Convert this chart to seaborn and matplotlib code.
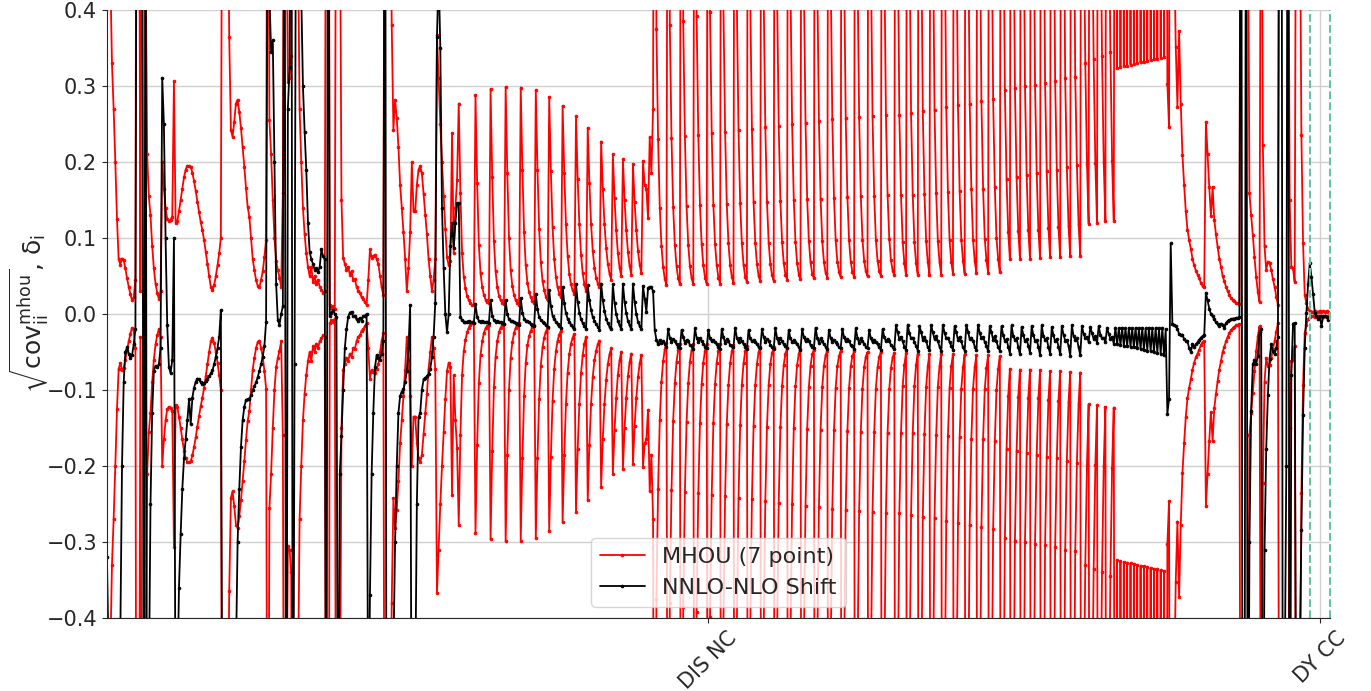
import numpy as np
import pandas as pd
import seaborn as sns
import matplotlib.pyplot as plt

# process groups along the x axis (data point index)
groups = ["DIS NC", "DY CC"]
group_sizes = [718, 12]

# sqrt of the diagonal of the MHOU covariance matrix
mhou_part1 = [
    0.9, 0.6, 0.45, 0.33, 0.27, 0.2, 0.125, 0.072, 0.065, 0.073, 0.071, 0.06, 0.047, 0.036, 0.026, 0.018, 0.022, 0.045,
    1.2, 0.8, 0.03, 0.9, 0.9, 0.5,
    0.21, 0.155, 0.13, 0.09, 0.06, 0.04, 0.028, 0.02, 0.03, 0.2, 0.165, 0.14, 0.125, 0.122, 0.124, 0.128, 0.306,
    0.12, 0.122, 0.135, 0.15, 0.165, 0.18, 0.19, 0.195, 0.195, 0.194, 0.186, 0.175, 0.162, 0.148, 0.134, 0.121,
    0.11, 0.097, 0.082, 0.066, 0.05, 0.036, 0.031, 0.038, 0.05, 0.064, 0.08, 0.1,
    0.8, 1.2, 0.9, 0.6, 0.365, 0.242, 0.233, 0.253, 0.277, 0.282, 0.266, 0.245, 0.22, 0.194, 0.166, 0.141, 0.128,
    0.1, 0.073, 0.058, 0.045, 0.037, 0.035, 0.045, 0.056, 0.075, 0.098, 0.9,
    0.255, 0.21, 0.15, 0.1, 0.07, 0.058, 0.048, 0.036, 0.159, 0.9, 0.6, 0.305, 0.31, 0.34, 1.1, 0.7, 0.9, 0.5,
    0.27, 0.2, 0.14, 0.105, 0.08, 0.062, 0.05, 0.062, 0.042, 0.05, 0.039, 0.045, 0.036, 0.032, 0.028, 0.03,
    0.9, 1.3, 0.012, 0.008, 0.01, 0.006, 0.9, 1.1, 0.6, 0.15, 0.074, 0.066, 0.058, 0.062, 0.052, 0.056, 0.045,
    0.046, 0.036, 0.03, 0.028, 0.022, 0.02, 0.016, 0.012, 0.045, 0.085, 0.074, 0.076, 0.078, 0.072, 0.066, 0.05,
    0.035, 0.025,
    1.0, 1.4, 0.9, 0.6, 0.38, 0.242, 0.282, 0.258, 0.22, 0.17, 0.14, 0.108, 0.073, 0.03, 0.06, 0.108, 0.2, 0.135,
    0.135, 0.17, 0.19, 0.195, 0.185, 0.158, 0.13, 0.105, 0.072, 0.05, 0.03, 0.045, 0.072, 0.367, 0.31, 0.25, 0.2,
    0.155, 0.112, 0.075, 0.064, 0.07, 0.238, 0.08, 0.14, 0.176,
]
mhou_part2 = [
    0.277, 0.159, 0.080, 0.049, 0.034, 0.024, 0.018, 0.014, 0.012, 0.012,
    0.288, 0.172, 0.091, 0.054, 0.036, 0.025, 0.019, 0.016, 0.014,
    0.296, 0.180, 0.096, 0.056, 0.036, 0.024, 0.018, 0.015, 0.013,
    0.299, 0.185, 0.100, 0.058, 0.037, 0.025, 0.018, 0.014, 0.012,
    0.298, 0.190, 0.108, 0.064, 0.041, 0.029, 0.022, 0.017, 0.015,
    0.295, 0.190, 0.112, 0.068, 0.044, 0.031, 0.023, 0.018,
    0.286, 0.188, 0.115, 0.072, 0.049, 0.035, 0.027, 0.022,
    0.274, 0.185, 0.118, 0.077, 0.053, 0.039, 0.031, 0.026,
    0.260, 0.178, 0.118, 0.078, 0.054, 0.039, 0.030,
    0.245, 0.172, 0.118, 0.083, 0.061, 0.048, 0.040, 0.035,
    0.227, 0.165, 0.118, 0.087, 0.066, 0.053, 0.045,
    0.210, 0.153, 0.110, 0.080, 0.061, 0.050,
    0.204, 0.150, 0.110, 0.082, 0.063, 0.052,
    0.197, 0.147, 0.110, 0.083, 0.065, 0.054,
    0.201, 0.170, 0.165, 0.126, 0.233, 0.185, 0.270,
]
mhou_part3 = [
    1.20, 0.375, 0.230, 0.140, 0.090, 0.062, 0.046, 0.038,
    1.10, 0.380, 0.232, 0.141, 0.091, 0.063, 0.047, 0.039,
    1.30, 0.386, 0.234, 0.142, 0.091, 0.063, 0.047, 0.039,
    1.15, 0.392, 0.236, 0.143, 0.092, 0.064, 0.048, 0.040,
    1.25, 0.398, 0.238, 0.144, 0.092, 0.064, 0.048, 0.040,
    1.20, 0.404, 0.240, 0.145, 0.093, 0.065, 0.049, 0.041,
    1.35, 0.410, 0.242, 0.146, 0.093, 0.065, 0.049, 0.042,
    1.20, 0.416, 0.244, 0.147, 0.094, 0.066, 0.050, 0.043,
    1.30, 0.422, 0.246, 0.148, 0.094, 0.066, 0.051, 0.044,
    1.25, 0.428, 0.248, 0.149, 0.095, 0.067, 0.052, 0.045,
    1.40, 0.434, 0.250, 0.150, 0.095, 0.067, 0.052, 0.046,
    1.30, 0.440, 0.252, 0.151, 0.096, 0.068, 0.053, 0.047,
    1.35, 0.446, 0.254, 0.152, 0.096, 0.068, 0.054, 0.048,
    1.25, 0.452, 0.256, 0.153, 0.097, 0.069, 0.055, 0.049,
    1.45, 0.458, 0.258, 0.154, 0.097, 0.069, 0.055, 0.049,
    1.30, 0.464, 0.259, 0.155, 0.098, 0.070, 0.056, 0.050,
    1.40, 0.470, 0.260, 0.155, 0.098, 0.070, 0.056, 0.050,
    1.35, 0.476, 0.262, 0.156, 0.099, 0.071, 0.057, 0.051,
]
mhou_part4 = [
    1.30, 0.52, 0.262, 0.156, 0.095, 0.067, 0.051,
    1.20, 0.52, 0.264, 0.157, 0.095, 0.067, 0.052,
    1.40, 0.53, 0.267, 0.158, 0.096, 0.068, 0.052,
    1.25, 0.53, 0.269, 0.159, 0.096, 0.068, 0.052,
    1.35, 0.54, 0.272, 0.161, 0.097, 0.069, 0.053,
    1.30, 0.54, 0.275, 0.162, 0.098, 0.070, 0.053,
    1.45, 0.55, 0.277, 0.164, 0.098, 0.070, 0.054,
    1.30, 0.55, 0.280, 0.165, 0.099, 0.071, 0.054,
    1.40, 0.56, 0.283, 0.167, 0.100, 0.072, 0.055,
]
mhou_part5 = [
    1.30, 0.60, 0.295, 0.178, 0.108, 0.072,
    1.40, 0.60, 0.298, 0.180, 0.109, 0.073,
    1.25, 0.61, 0.300, 0.183, 0.110, 0.073,
    1.35, 0.61, 0.302, 0.185, 0.111, 0.074,
    1.30, 0.62, 0.304, 0.188, 0.113, 0.075,
    1.45, 0.62, 0.307, 0.190, 0.114, 0.075,
    1.30, 0.63, 0.310, 0.193, 0.116, 0.076,
    1.40, 0.63, 0.312, 0.196, 0.118, 0.077,
]
mhou_part6 = [
    1.30, 0.55, 0.330, 0.198, 0.119,
    1.40, 0.56, 0.335, 0.199, 0.120,
    1.30, 0.56, 0.340, 0.200, 0.122,
    1.45, 0.57, 0.345, 0.202, 0.123,
]
mhou_part7 = [
    1.3, 0.324, 1.4, 0.325, 1.3, 0.326, 1.5, 0.327, 1.3, 0.328, 1.4, 0.329, 1.3, 0.330, 1.5, 0.331,
    1.3, 0.332, 1.4, 0.333, 1.3, 0.334, 1.5, 0.335, 1.3, 0.336, 1.4, 0.337, 1.3, 0.338,
]
mhou_part8 = [
    1.5, 0.303, 0.246, 1.2, 0.8, 0.5, 0.352, 0.273, 0.372, 0.277, 0.209, 0.17, 0.135, 0.111, 0.097, 0.086,
    0.073, 0.064, 0.057, 0.052, 0.047, 0.041, 0.037, 0.036, 0.253, 0.21, 0.167, 0.129, 0.167, 0.124, 0.105,
    0.088, 0.073, 0.062, 0.05, 0.043, 0.036, 0.03, 0.025, 0.021, 0.019, 0.017, 0.015, 0.014, 0.013,
    1.2, 1.5, 1.0, 0.8, 0.6, 0.159, 0.13, 0.104, 0.075, 0.049, 0.029, 0.016, 0.8, 0.222, 0.089, 0.058,
    0.069, 0.067, 0.058, 0.046, 0.036, 0.023, 0.012, 0.9, 1.3, 0.7, 0.9, 1.1, 0.7, 0.15, 0.062, 0.06, 0.042,
    0.8, 1.0, 0.6, 0.236, 0.093, 0.025, 0.014, 0.007,
]
mhou_dy = [0.004, 0.003, 0.003, 0.004, 0.003, 0.003, 0.004, 0.003, 0.004, 0.003, 0.004, 0.003]

# NNLO - NLO shift
shift_part1 = [
    -0.32, -0.45, -0.7, -0.8, -0.75, -0.6, -0.5, -0.45, -0.42, -0.2, -0.09, -0.05, -0.044, -0.052, -0.058, -0.054,
    -0.04, -0.02,
    0.9, 1.1, 0.8, 0.9, -0.9, 0.7,
    -0.8, -0.5, -0.25, -0.13, -0.075, -0.068, -0.07, -0.066, -0.045, 0.31, 0.25, 0.1, -0.015, -0.07, -0.078,
    -0.06, 0.1, -0.6, -0.5, -0.36, -0.29, -0.23, -0.19, -0.165, -0.14, -0.112, -0.145, -0.11, -0.097, -0.089,
    -0.085, -0.086, -0.09, -0.092, -0.091, -0.088, -0.085, -0.082, -0.078, -0.074, -0.066, -0.056, -0.045,
    -0.03, 0.005,
    -0.7, -0.9, -1.1, -0.8, -0.6, -0.5, -0.48, -0.46, -0.45, -0.3, -0.23, -0.175, -0.14, -0.122, -0.113, -0.112,
    -0.112, -0.107, -0.1, -0.095, -0.09, -0.083, -0.075, -0.066, -0.056, -0.042, -0.01, 0.6,
    0.42, 0.345, 0.36, 0.2, 0.04, -0.008, -0.014, 0.0, 0.01, 0.8, -0.9, 0.27, 0.325, 0.9, -0.8, -0.066, 0.7, 1.0,
    0.6, 0.42, 0.3, 0.24, 0.19, 0.12, 0.082, 0.072, 0.066, 0.058, 0.06, 0.055, 0.062, 0.085, 0.076, 0.072,
    -0.8, 0.9, -0.003, 0.002, 0.005, 0.0, -0.004, -0.7, -0.21, -0.16, -0.1, -0.045, -0.02, -0.004, 0.002, 0.003,
    -0.003, -0.002, -0.007, -0.009, -0.005, -0.009, -0.003, -0.002, 0.0, -0.6, -0.37, -0.21, -0.13, -0.07,
    -0.054, -0.058, -0.06, -0.052, -0.035,
    0.9, -0.9, -1.0, -0.8, -0.6, -0.45, -0.3, -0.2, -0.13, -0.108, -0.102, -0.099, -0.09, -0.075, -0.045, 0.012,
    -0.7, -0.9, -0.5, -0.25, -0.136, -0.13, -0.1, -0.086, -0.084, -0.082, -0.079, -0.072, -0.057, -0.03, 0.015,
    0.365, 0.45, 0.35, 0.14, 0.06, 0.0, -0.024, 0.0, 0.09, 0.12, 0.087, 0.12, 0.146,
]
shift_part2 = [
    0.146, -0.004, -0.008, -0.010, -0.011, -0.010, -0.009, -0.010, -0.011, -0.012,
    0.013, -0.004, -0.009, -0.010, -0.009, -0.010, -0.011, -0.011, -0.012,
    0.018, -0.002, -0.008, -0.010, -0.009, -0.010, -0.011, -0.012, -0.013,
    0.018, 0.000, -0.007, -0.009, -0.009, -0.010, -0.012, -0.013, -0.014,
    0.021, 0.002, -0.006, -0.009, -0.009, -0.011, -0.013, -0.015, -0.016,
    0.027, 0.006, -0.004, -0.008, -0.010, -0.012, -0.015, -0.017,
    0.031, 0.010, -0.002, -0.007, -0.010, -0.013, -0.016, -0.018,
    0.036, 0.014, 0.001, -0.006, -0.010, -0.014, -0.017, -0.020,
    0.039, 0.016, 0.002, -0.007, -0.012, -0.016, -0.020,
    0.038, 0.018, 0.005, -0.004, -0.009, -0.013, -0.017, -0.021,
    0.040, 0.018, 0.004, -0.006, -0.012, -0.017, -0.020,
    0.039, 0.015, 0.000, -0.009, -0.015, -0.020,
    0.040, 0.016, 0.001, -0.009, -0.015, -0.020,
    0.040, 0.016, 0.000, -0.010, -0.016, -0.020,
    0.037, 0.020, 0.003, 0.034, 0.036, 0.035, 0.030,
]
shift_part3 = [
    -0.021, -0.034, -0.040, -0.034, -0.038, -0.036, -0.040, -0.043,
    -0.020, -0.031, -0.037, -0.033, -0.036, -0.040, -0.043, -0.045,
    -0.021, -0.030, -0.038, -0.034, -0.035, -0.041, -0.042, -0.046,
    -0.019, -0.031, -0.037, -0.032, -0.036, -0.039, -0.043, -0.045,
    -0.021, -0.032, -0.036, -0.034, -0.037, -0.040, -0.044, -0.046,
    -0.020, -0.030, -0.038, -0.033, -0.035, -0.041, -0.042, -0.044,
    -0.018, -0.031, -0.037, -0.032, -0.036, -0.040, -0.043, -0.046,
    -0.021, -0.032, -0.036, -0.034, -0.037, -0.039, -0.044, -0.045,
    -0.020, -0.030, -0.037, -0.033, -0.035, -0.041, -0.043, -0.046,
    -0.019, -0.031, -0.038, -0.032, -0.036, -0.040, -0.042, -0.045,
    -0.021, -0.032, -0.037, -0.034, -0.037, -0.039, -0.044, -0.047,
    -0.020, -0.030, -0.036, -0.033, -0.035, -0.041, -0.043, -0.045,
    -0.018, -0.031, -0.038, -0.032, -0.036, -0.040, -0.043, -0.046,
    -0.021, -0.032, -0.037, -0.034, -0.037, -0.040, -0.044, -0.045,
    -0.020, -0.030, -0.036, -0.033, -0.035, -0.041, -0.042, -0.046,
    -0.019, -0.031, -0.038, -0.032, -0.036, -0.039, -0.043, -0.045,
    -0.021, -0.032, -0.037, -0.034, -0.037, -0.040, -0.044, -0.047,
    -0.020, -0.030, -0.036, -0.033, -0.035, -0.041, -0.043, -0.046,
]
shift_part4 = [
    -0.015, -0.024, -0.033, -0.030, -0.036, -0.043, -0.047,
    -0.014, -0.025, -0.032, -0.031, -0.037, -0.042, -0.048,
    -0.016, -0.023, -0.034, -0.030, -0.035, -0.044, -0.047,
    -0.015, -0.024, -0.033, -0.029, -0.036, -0.043, -0.049,
    -0.014, -0.025, -0.032, -0.031, -0.037, -0.042, -0.047,
    -0.016, -0.024, -0.034, -0.030, -0.036, -0.044, -0.048,
    -0.015, -0.023, -0.033, -0.031, -0.035, -0.043, -0.047,
    -0.014, -0.025, -0.032, -0.030, -0.037, -0.042, -0.049,
    -0.016, -0.024, -0.034, -0.029, -0.036, -0.044, -0.048,
]
shift_part5 = [
    -0.016, -0.028, -0.035, -0.033, -0.043, -0.052,
    -0.015, -0.029, -0.034, -0.032, -0.044, -0.053,
    -0.017, -0.027, -0.036, -0.033, -0.042, -0.051,
    -0.016, -0.028, -0.035, -0.034, -0.043, -0.054,
    -0.015, -0.029, -0.034, -0.032, -0.044, -0.052,
    -0.017, -0.028, -0.036, -0.033, -0.043, -0.053,
    -0.016, -0.027, -0.035, -0.034, -0.042, -0.055,
    -0.015, -0.029, -0.034, -0.032, -0.044, -0.054,
]
shift_part6 = [
    -0.016, -0.026, -0.032, -0.030, -0.037,
    -0.017, -0.025, -0.033, -0.029, -0.038,
    -0.016, -0.027, -0.032, -0.031, -0.037,
    -0.018, -0.026, -0.033, -0.030, -0.039,
]
shift_part7 = [
    -0.018, -0.040, -0.019, -0.041, -0.018, -0.042, -0.019, -0.042, -0.018, -0.043, -0.019, -0.044,
    -0.018, -0.045, -0.019, -0.046, -0.018, -0.047, -0.019, -0.048, -0.018, -0.049, -0.019, -0.050,
    -0.018, -0.051, -0.019, -0.052, -0.018, -0.054,
]
shift_part8 = [
    -0.02, -0.131, -0.112, 0.093, -0.0135, -0.014, -0.016, -0.02, -0.026, -0.028, -0.027, -0.033, -0.035,
    -0.036, -0.045, -0.05, -0.04, -0.043, -0.04, -0.037, -0.034, -0.031, -0.029, -0.028, 0.028, 0.018, 0.007,
    0.0, -0.003, -0.007, -0.011, -0.0135, -0.016, -0.0125, -0.014, -0.019, -0.012, -0.009, -0.008, -0.007,
    -0.006, -0.006, -0.005, -0.005, -0.004,
    1.0, -1.0, -0.8, 0.9, -0.8, -0.3, -0.127, -0.066, -0.061, -0.066, -0.055, -0.024, -0.02, -0.7, -0.31,
    -0.178, -0.107, -0.059, -0.04, -0.049, -0.053, -0.045, -0.03, 0.9, 1.1, -0.9, -0.5, -0.2, 1.0, -0.9,
    -0.08, -0.0125, -0.012, -0.7, -0.6, -0.45, -0.284, -0.133, -0.045, 0.002, 0.04,
]
shift_dy = [0.067, 0.049, 0.026, 0.002, -0.003, -0.007, -0.003, -0.016, -0.003, -0.003, -0.004, -0.008]

mhou = (mhou_part1 + mhou_part2 + mhou_part3 + mhou_part4 + mhou_part5 + mhou_part6
        + mhou_part7 + mhou_part8 + mhou_dy)
shift = (shift_part1 + shift_part2 + shift_part3 + shift_part4 + shift_part5 + shift_part6
         + shift_part7 + shift_part8 + shift_dy)
n_tot = sum(group_sizes)

df = pd.DataFrame({"punt": np.arange(len(mhou)), "mhou": mhou, "shift": shift})
df["min_mhou"] = -df["mhou"]

sns.set_style("ticks")
plt.rcParams['font.family'] = ['DejaVu Sans']

fig, ax = plt.subplots(figsize=(13.71, 6.91), dpi=100)
fig.subplots_adjust(left=0.078, right=0.970, bottom=0.1056, top=0.9855)

stijl = dict(marker=".", markersize=4, markeredgewidth=0.6, linewidth=1.3, sort=False, estimator=None, ax=ax)
sns.lineplot(data=df, x="punt", y="mhou", color="red", markeredgecolor="red", label="MHOU (7 point)", **stijl)
sns.lineplot(data=df, x="punt", y="min_mhou", color="red", markeredgecolor="red", **stijl)
sns.lineplot(data=df, x="punt", y="shift", color="black", markeredgecolor="black", label="NNLO-NLO Shift", **stijl)

# grenzen tussen de processen en labels in het midden
grenzen = np.cumsum(group_sizes)
starts = np.concatenate([[0], grenzen[:-1]])
midden = (starts + grenzen) / 2
for g in grenzen:
    ax.axvline(g, color="#66c2a5", linestyle="--", linewidth=1.5, clip_on=False)

ax.set_xticks(midden)
ax.set_xticklabels(groups, rotation=45, fontsize=15)
ax.set_xlim(0, n_tot)
ax.set_ylim(-0.4, 0.4)
ax.set_yticks(np.arange(-0.4, 0.41, 0.1))
ax.tick_params(axis="y", labelsize=15)
ax.tick_params(length=3.5, width=0.8)
ax.grid(True, color="#d0d0d0", linewidth=1.0)
ax.set_xlabel("")
ax.set_ylabel(r"$\sqrt{\mathrm{cov}^{\mathrm{mhou}}_{\mathrm{ii}}}$, $\mathrm{\delta}_{\mathrm{i}}$",
              fontsize=18, labelpad=-3)
sns.despine(ax=ax)
ax.legend(loc="lower center", fontsize=16)

plt.savefig("out.png", dpi=100)
